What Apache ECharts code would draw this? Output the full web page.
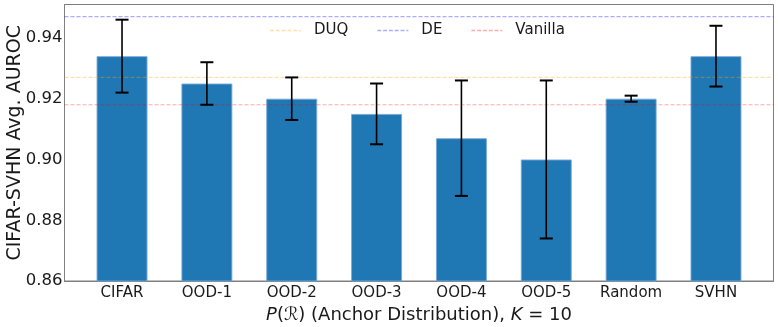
<!DOCTYPE html>
<html><head><meta charset="utf-8">
<script src="https://cdn.jsdelivr.net/npm/echarts@6/dist/echarts.min.js"></script>
<style>html,body{margin:0;padding:0;background:#fff}#c{width:778px;height:327px}</style>
</head><body><div id="c"></div>
<script>
const categories = ['CIFAR','OOD-1','OOD-2','OOD-3','OOD-4','OOD-5','Random','SVHN'];
const means = [0.934, 0.925, 0.920, 0.915, 0.907, 0.900, 0.920, 0.934];
const errLow = [0.922, 0.918, 0.913, 0.905, 0.888, 0.874, 0.9190, 0.924];
const errHigh = [0.946, 0.932, 0.927, 0.925, 0.926, 0.926, 0.9210, 0.944];
const baselineNames = ['DUQ','DE','Vanilla'];
const baselineValues = [0.927, 0.947, 0.918];
const yTicks = [0.86, 0.88, 0.90, 0.92, 0.94];

const baselineColors = ['rgba(255,165,0,0.35)','rgba(0,0,255,0.33)','rgba(255,0,0,0.33)'];
const font = 'DejaVu Sans';
const chart = echarts.init(document.getElementById('c'), null, {renderer:'canvas'});
const idx = categories.map((_, i) => i);
const dashIcon = 'path://M0,0h4v1.3h-4zM6,0h4v1.3h-4zM12,0h4v1.3h-4zM18,0h4v1.3h-4zM24,0h4v1.3h-4zM30,0h2v1.3h-2z';

const series = [
  {
    type: 'bar',
    data: means.map((v, i) => [i, v]),
    barWidth: 51,
    itemStyle: {color: '#1f77b4', borderColor: 'rgba(120,170,215,0.9)', borderWidth: 1},
    clip: true,
    z: 2
  },
  {
    type: 'custom',
    data: idx.map(i => [i, errLow[i], errHigh[i]]),
    renderItem: function (params, api) {
      const lo = api.coord([api.value(0), api.value(1)]);
      const hi = api.coord([api.value(0), api.value(2)]);
      const w = 6.5;
      const st = {stroke: '#000', lineWidth: 1.6};
      const cap = {stroke: '#000', lineWidth: 2};
      return {type: 'group', children: [
        {type: 'line', shape: {x1: lo[0], y1: lo[1], x2: hi[0], y2: hi[1]}, style: st},
        {type: 'line', shape: {x1: lo[0]-w, y1: lo[1], x2: lo[0]+w, y2: lo[1]}, style: cap},
        {type: 'line', shape: {x1: hi[0]-w, y1: hi[1], x2: hi[0]+w, y2: hi[1]}, style: cap}
      ]};
    },
    z: 5
  }
];
baselineNames.forEach((n, k) => {
  series.push({
    type: 'custom', name: n,
    data: [[0, baselineValues[k]]],
    itemStyle: {color: baselineColors[k]},
    renderItem: function (params, api) {
      const cs = params.coordSys;
      const p = api.coord([0, api.value(1)]);
      return {type: 'line', shape: {x1: cs.x, y1: p[1], x2: cs.x + cs.width, y2: p[1]},
        style: {stroke: baselineColors[k], lineWidth: 1.2, lineDash: [4, 2]}};
    },
    z: 4
  });
});

chart.setOption({
  animation: false,
  grid: {left: 64.5, right: 4.5, top: 4.5, bottom: 46, outerBoundsMode: 'none', containLabel: false, show: true, borderColor: '#7f7f7f', borderWidth: 1},
  legend: {
    data: baselineNames.map((n, k) => ({name: n, icon: dashIcon, itemStyle: {color: baselineColors[k]}})),
    left: 265, top: 18, itemWidth: 31, itemHeight: 1.3, itemGap: 29,
    textStyle: {fontFamily: font, fontSize: 15, color: '#1a1a1a', padding: [0,0,0,8]}
  },
  xAxis: {
    type: 'value', min: -0.678, max: 7.678,
    splitLine: {show: false},
    axisLine: {show: true, onZero: false, lineStyle: {color: '#7f7f7f'}},
    axisTick: {show: false, customValues: idx},
    axisLabel: {customValues: idx, formatter: v => categories[Math.round(v)], fontFamily: font, fontSize: 15, color: '#1a1a1a', margin: 5},
    name: '{i|P}(ℛ) (Anchor Distribution), {i|K} = 10',
    nameLocation: 'middle', nameGap: 25, nameMoveOverlap: false,
    nameTextStyle: {fontFamily: font, fontSize: 18, color: '#1a1a1a', rich: {i: {fontStyle: 'italic', fontFamily: font, fontSize: 18, color: '#1a1a1a'}}}
  },
  yAxis: {
    type: 'value', min: 0.86, max: 0.951,
    splitLine: {show: false},
    axisLine: {show: true, onZero: false, lineStyle: {color: '#7f7f7f'}},
    axisTick: {show: false, customValues: yTicks},
    axisLabel: {customValues: yTicks, formatter: v => v.toFixed(2), fontFamily: font, fontSize: 16.5, color: '#1a1a1a', margin: 2},
    name: 'CIFAR-SVHN Avg. AUROC', nameLocation: 'middle', nameGap: 40, nameMoveOverlap: false,
    nameTextStyle: {fontFamily: font, fontSize: 19, color: '#1a1a1a'}
  },
  series: series
});
</script></body></html>
